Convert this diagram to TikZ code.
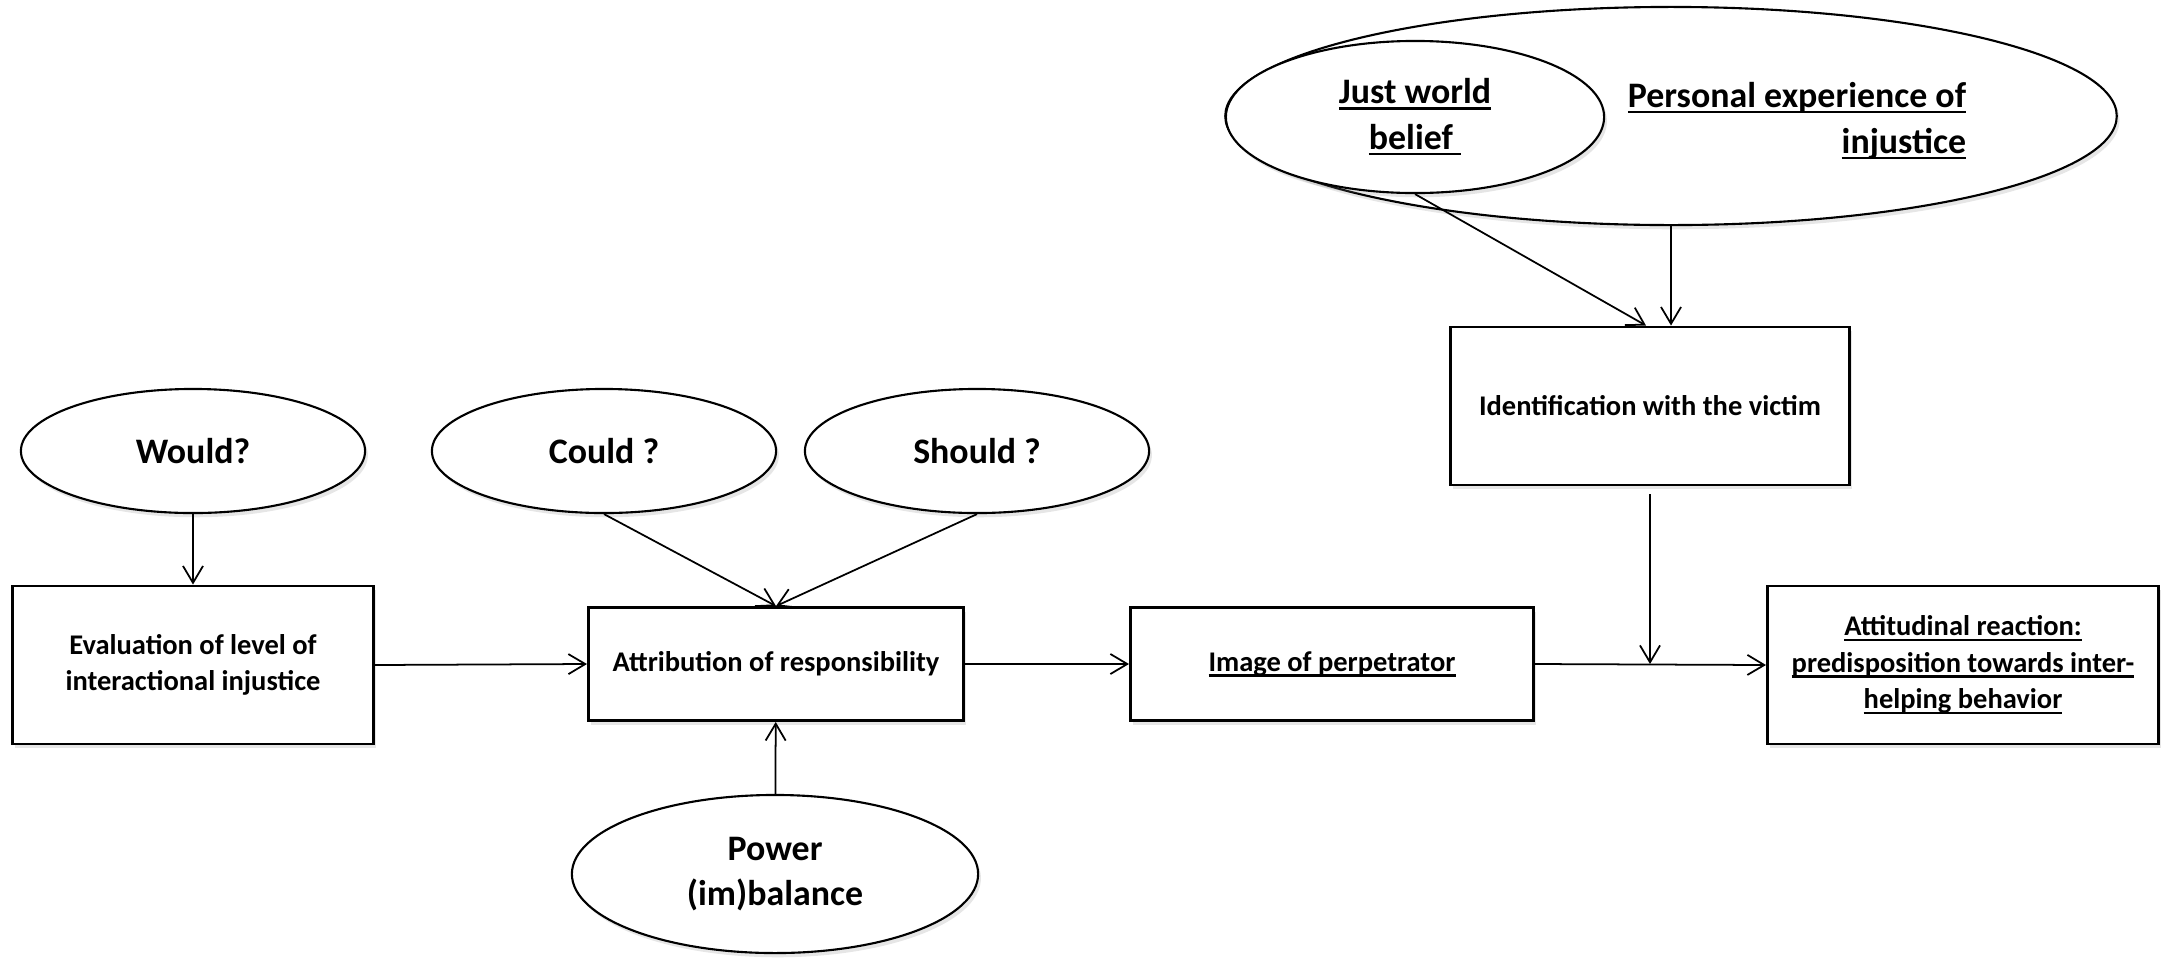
\documentclass[tikz,border=0pt]{standalone}
\usepackage{fontspec}
\setmainfont{Carlito}
\usetikzlibrary{shapes.geometric,arrows.meta,shadows}
\newcommand\boxfont{\bfseries\fontsize{8.1}{10.4}\selectfont}
\newcommand\bubblefont{\bfseries\fontsize{10.2}{13}\selectfont}
\newcommand\ulined[1]{\setbox0\hbox{#1}\rlap{\rule[-1.6pt]{\wd0}{0.7pt}}\box0}
\begin{document}
\begin{tikzpicture}[x=0.01cm,y=-0.01cm,
    soft/.style={drop shadow={opacity=0.2,shadow xshift=0.8pt,shadow yshift=-1.2pt}},
    box/.style={draw, line width=0.8pt, fill=white, align=center, font=\boxfont, inner sep=0pt, soft},
    bubble/.style={ellipse, draw, line width=0.6pt, fill=white, align=center, font=\bubblefont, inner sep=0pt, soft},
    link/.style={-{Straight Barb[length=4.8pt,width=5.7pt]}, line width=0.5pt}]
  \useasboundingbox (0,0) rectangle (2161,957);
  \node[bubble, minimum width=3.44cm, minimum height=1.24cm] (would) at (193,451) {Would?};
  \node[bubble, minimum width=3.44cm, minimum height=1.24cm] (could) at (604,451) {Could ?};
  \node[bubble, minimum width=3.44cm, minimum height=1.24cm] (should) at (977,451) {Should ?};
  \node[bubble, minimum width=4.06cm, minimum height=1.58cm] (power) at (775,874) {Power\\(im)balance};
  \node[bubble, minimum width=8.91cm, minimum height=2.18cm] (exper) at (1671,116) {};
  \node[bubble, minimum width=3.78cm, minimum height=1.52cm] (just) at (1415,117) {\ulined{Just world}\\\ulined{belief\ }};
  \node[font=\bubblefont, align=right] (experlabel) at (1797,121) {\ulined{Personal experience of}\\\ulined{injustice}};

  \node[box, minimum width=3.61cm, minimum height=1.58cm] (eval) at (193,665) {Evaluation of level of\\interactional injustice};
  \node[box, minimum width=3.75cm, minimum height=1.13cm] (attrib) at (776,664) {Attribution of responsibility};
  \node[box, minimum width=4.03cm, minimum height=1.13cm] (image) at (1332,664) {\ulined{Image of perpetrator}};
  \node[box, minimum width=3.99cm, minimum height=1.58cm] (ident) at (1650,406) {Identification with the victim};
  \node[box, minimum width=3.91cm, minimum height=1.58cm] (react) at (1963,665) {\ulined{Attitudinal reaction:}\\\ulined{predisposition towards inter-}\\\ulined{helping behavior}};

  \draw[link] (would) -- (eval);
  \draw[link] (could.south) -- (attrib.north);
  \draw[link] (should.south) -- (attrib.north);
  \draw[link] (power) -- (attrib);
  \draw[link] (eval.east) -- (attrib.west);
  \draw[link] (attrib.east) -- (image.west);
  \draw[link] (image.east) -- (react.west);
  \coordinate (join) at (ident.south |- image.east);
  \draw[link, shorten <=0.08cm] (ident.south) -- (join);
  \draw[link] (just.south) -- ([xshift=-0.04cm]ident.north);
  \draw[link] (exper.south) -- (exper.south |- ident.north);
\end{tikzpicture}
\end{document}
